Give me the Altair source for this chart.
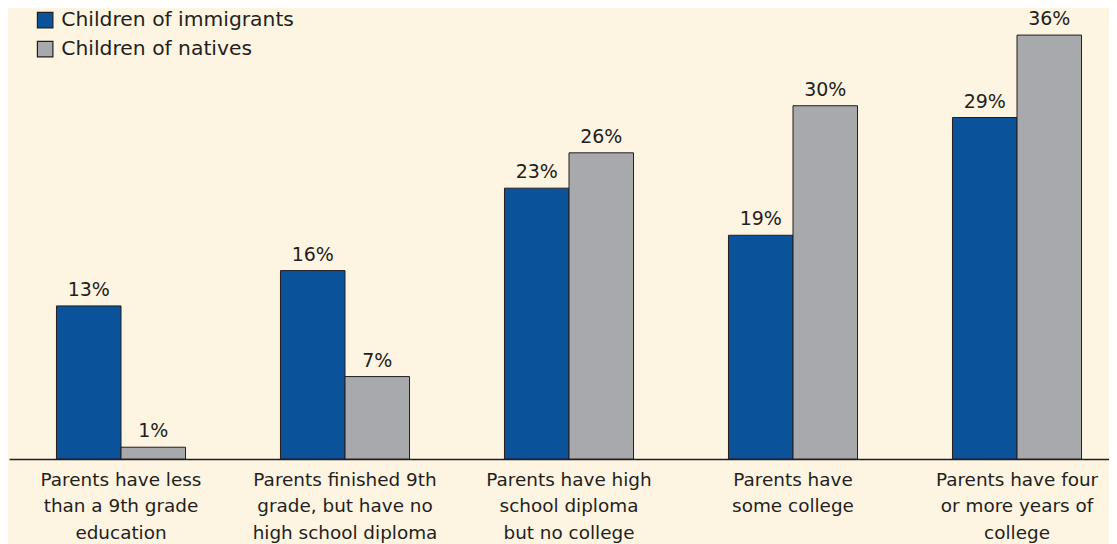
import altair as alt
import pandas as pd

# ---- data ----
category_lines = [
    ["Parents have less", "than a 9th grade", "education"],
    ["Parents finished 9th", "grade, but have no", "high school diploma"],
    ["Parents have high", "school diploma", "but no college"],
    ["Parents have", "some college"],
    ["Parents have four", "or more years of", "college"],
]
series_names = ["Children of immigrants", "Children of natives"]
immigrants = [13, 16, 23, 19, 29]
natives = [1, 7, 26, 30, 36]

categories = ["|".join(c) for c in category_lines]

rows = []
for i, cat in enumerate(categories):
    rows.append({"category": cat, "series": series_names[0], "value": immigrants[i]})
    rows.append({"category": cat, "series": series_names[1], "value": natives[i]})
df = pd.DataFrame(rows)

BG = "#fdf4e1"
BLUE = "#0a539b"
GRAY = "#a7a9ac"
INK = "#231f20"
FONT = "DejaVu Sans"

x_enc = alt.X(
    "category:N",
    sort=categories,
    scale=alt.Scale(range=[0, 1120], paddingInner=0, paddingOuter=0),
    axis=alt.Axis(
        title=None,
        ticks=False,
        labelAngle=0,
        labelExpr="split(datum.label, '|')",
        labelFont=FONT,
        labelFontSize=18.4,
        labelLineHeight=26.5,
        labelColor=INK,
        labelPadding=11,
        labelLimit=0,
        labelBaseline="top",
        domainColor=INK,
        domainWidth=1.5,
        grid=False,
    ),
)
xoff = alt.XOffset(
    "series:N",
    sort=series_names,
    scale=alt.Scale(paddingInner=0, paddingOuter=0.736),
)
y_enc = alt.Y("value:Q", scale=alt.Scale(domain=[0, 38.3], nice=False), axis=None)

base = alt.Chart(df).encode(x=x_enc, xOffset=xoff, y=y_enc)

bars = base.mark_bar(stroke=INK, strokeWidth=1, opacity=1).encode(
    color=alt.Color(
        "series:N",
        sort=series_names,
        scale=alt.Scale(domain=series_names, range=[BLUE, GRAY]),
        legend=alt.Legend(
            title=None,
            orient="none",
            legendX=26,
            legendY=2,
            padding=0,
            symbolType="square",
            symbolSize=240,
            symbolStrokeColor=INK,
            symbolStrokeWidth=1.2,
            symbolOpacity=1,
            labelFont=FONT,
            labelFontSize=20.3,
            labelColor=INK,
            labelOffset=6,
            labelLimit=0,
            rowPadding=8,
        ),
    )
)

labels = base.transform_calculate(lab="datum.value + '%'").mark_text(
    font=FONT, fontSize=19, color=INK, baseline="alphabetic", dy=-10
).encode(text="lab:N")

chart = (
    alt.layer(bars, labels)
    .properties(
        width=1100,
        height=451,
        background=BG,
        padding={"left": 1, "top": 0, "right": 0, "bottom": 85},
        autosize=alt.AutoSizeParams(type="none"),
    )
    .configure_view(stroke=None)
)

chart.save("out.html", embed_options={"renderer": "svg", "actions": False})
